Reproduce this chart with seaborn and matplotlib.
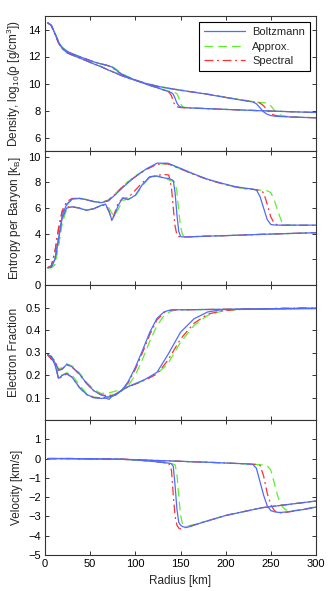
import matplotlib
matplotlib.use("Agg")
import matplotlib.pyplot as plt
import seaborn as sns
import pandas as pd
from matplotlib.lines import Line2D

# ---------------- data ----------------
SCHEMES = ["Boltzmann", "Approx.", "Spectral"]

R_EARLY = [3, 7, 11, 15, 19, 24, 30, 38, 46, 54, 62, 67, 71, 74, 77, 81, 86, 92, 100, 108,
           116, 124, 132, 137, 140, 142, 144, 146, 148, 150, 152, 154, 158, 175, 200, 240, 300]
R_LATE = [3, 7, 11, 15, 19, 24, 30, 38, 46, 54, 62, 70, 78, 86, 94, 102, 112, 124, 136, 150,
          165, 180, 195, 210, 222, 230, 234, 238, 242, 246, 250, 254, 258, 262, 266, 272, 285, 300]

# density, log10(rho)
dens_boltz_early = [14.5, 14.3, 13.7, 13.05, 12.65, 12.4, 12.2, 12.0, 11.8, 11.6, 11.45, 11.38, 11.3, 11.22, 11.08, 10.88, 10.65, 10.48, 10.25, 10.05, 9.85, 9.7, 9.5, 9.4, 9.32, 9.2, 8.9, 8.55, 8.35, 8.27, 8.24, 8.22, 8.2, 8.15, 8.08, 7.98, 7.85]
dens_approx_early = [14.5, 14.3, 13.75, 13.1, 12.7, 12.42, 12.22, 12.0, 11.8, 11.6, 11.45, 11.38, 11.32, 11.26, 11.15, 10.95, 10.7, 10.5, 10.26, 10.06, 9.87, 9.72, 9.53, 9.44, 9.38, 9.35, 9.32, 9.25, 8.95, 8.5, 8.3, 8.24, 8.2, 8.15, 8.08, 7.98, 7.85]
dens_spec_early = [14.5, 14.3, 13.65, 13.0, 12.62, 12.38, 12.2, 12.0, 11.8, 11.6, 11.45, 11.37, 11.28, 11.2, 11.05, 10.85, 10.63, 10.47, 10.25, 10.05, 9.85, 9.7, 9.5, 9.38, 9.1, 8.65, 8.38, 8.28, 8.24, 8.22, 8.21, 8.2, 8.19, 8.15, 8.08, 7.98, 7.85]
dens_boltz_late = [14.5, 14.3, 13.7, 13.05, 12.6, 12.3, 12.12, 11.9, 11.68, 11.45, 11.25, 11.0, 10.78, 10.55, 10.36, 10.2, 10.0, 9.8, 9.65, 9.5, 9.35, 9.2, 9.02, 8.85, 8.72, 8.63, 8.5, 8.2, 7.9, 7.72, 7.63, 7.58, 7.56, 7.55, 7.54, 7.52, 7.49, 7.46]
dens_approx_late = [14.5, 14.3, 13.75, 13.1, 12.65, 12.32, 12.14, 11.9, 11.68, 11.45, 11.25, 11.02, 10.8, 10.57, 10.38, 10.22, 10.02, 9.82, 9.67, 9.52, 9.37, 9.22, 9.05, 8.88, 8.75, 8.67, 8.63, 8.6, 8.58, 8.55, 8.35, 8.0, 7.75, 7.63, 7.58, 7.54, 7.5, 7.47]
dens_spec_late = [14.5, 14.3, 13.65, 13.0, 12.58, 12.28, 12.1, 11.9, 11.68, 11.45, 11.25, 11.0, 10.78, 10.55, 10.36, 10.2, 10.0, 9.8, 9.65, 9.5, 9.35, 9.2, 9.03, 8.86, 8.73, 8.65, 8.6, 8.55, 8.35, 8.02, 7.78, 7.65, 7.6, 7.57, 7.55, 7.52, 7.49, 7.46]

# entropy per baryon
ent_boltz_early = [1.35, 1.4, 2.0, 3.6, 5.2, 6.0, 6.1, 6.0, 5.82, 5.95, 6.2, 6.3, 5.75, 5.05, 5.45, 6.2, 6.8, 6.65, 7.0, 7.85, 8.45, 8.5, 8.35, 8.3, 8.22, 8.15, 7.2, 5.5, 4.2, 3.8, 3.75, 3.75, 3.75, 3.8, 3.85, 3.95, 4.08]
ent_approx_early = [1.35, 1.35, 1.6, 3.1, 4.8, 5.9, 6.1, 6.0, 5.85, 5.95, 6.2, 6.3, 6.0, 5.6, 5.4, 5.9, 6.6, 6.7, 6.95, 7.75, 8.4, 8.48, 8.3, 8.2, 8.12, 8.08, 8.02, 7.3, 5.8, 4.6, 3.95, 3.78, 3.76, 3.8, 3.85, 3.95, 4.08]
ent_spec_early = [1.35, 1.5, 2.6, 4.4, 5.7, 6.1, 6.1, 6.0, 5.82, 5.95, 6.2, 6.25, 5.7, 5.0, 5.6, 6.4, 6.75, 6.8, 7.4, 8.0, 8.4, 8.55, 8.62, 8.58, 7.6, 6.0, 4.6, 3.9, 3.78, 3.76, 3.75, 3.75, 3.75, 3.8, 3.85, 3.95, 4.08]
ent_boltz_late = [1.35, 1.4, 2.0, 3.6, 5.4, 6.3, 6.7, 6.75, 6.65, 6.5, 6.42, 6.55, 7.05, 7.6, 8.1, 8.55, 9.05, 9.5, 9.5, 9.1, 8.65, 8.25, 7.95, 7.68, 7.55, 7.48, 7.42, 6.9, 6.0, 5.1, 4.72, 4.68, 4.67, 4.67, 4.67, 4.67, 4.67, 4.67]
ent_approx_late = [1.35, 1.35, 1.6, 3.1, 5.0, 6.2, 6.7, 6.78, 6.68, 6.52, 6.45, 6.62, 7.15, 7.7, 8.18, 8.6, 9.02, 9.45, 9.45, 9.05, 8.62, 8.22, 7.92, 7.65, 7.5, 7.45, 7.42, 7.4, 7.38, 7.35, 7.2, 6.6, 5.7, 4.95, 4.7, 4.67, 4.66, 4.66]
ent_spec_late = [1.35, 1.5, 2.6, 4.4, 5.8, 6.5, 6.75, 6.75, 6.65, 6.5, 6.42, 6.6, 7.1, 7.65, 8.15, 8.55, 9.0, 9.42, 9.45, 9.05, 8.62, 8.22, 7.92, 7.65, 7.52, 7.46, 7.42, 7.38, 7.2, 6.3, 5.3, 4.78, 4.68, 4.66, 4.65, 4.65, 4.65, 4.65]

# electron fraction
ye_boltz_early = [0.29, 0.28, 0.245, 0.185, 0.198, 0.207, 0.19, 0.145, 0.114, 0.099, 0.096, 0.097, 0.092, 0.105, 0.112, 0.12, 0.137, 0.17, 0.234, 0.31, 0.39, 0.452, 0.481, 0.487, 0.489, 0.49, 0.49, 0.49, 0.49, 0.49, 0.49, 0.49, 0.49, 0.491, 0.492, 0.493, 0.495]
ye_approx_early = [0.29, 0.282, 0.255, 0.195, 0.2, 0.21, 0.2, 0.155, 0.118, 0.102, 0.098, 0.1, 0.105, 0.11, 0.115, 0.122, 0.132, 0.152, 0.2, 0.27, 0.35, 0.42, 0.465, 0.478, 0.484, 0.486, 0.488, 0.489, 0.49, 0.49, 0.49, 0.49, 0.49, 0.491, 0.492, 0.494, 0.497]
ye_spec_early = [0.29, 0.27, 0.26, 0.18, 0.195, 0.205, 0.19, 0.145, 0.113, 0.1, 0.098, 0.1, 0.104, 0.108, 0.113, 0.12, 0.135, 0.165, 0.225, 0.3, 0.38, 0.445, 0.478, 0.486, 0.488, 0.489, 0.49, 0.49, 0.49, 0.49, 0.49, 0.49, 0.49, 0.491, 0.492, 0.494, 0.497]
ye_boltz_late = [0.29, 0.282, 0.255, 0.222, 0.225, 0.247, 0.236, 0.205, 0.163, 0.13, 0.112, 0.101, 0.11, 0.135, 0.152, 0.165, 0.183, 0.212, 0.29, 0.39, 0.45, 0.48, 0.49, 0.492, 0.493, 0.493, 0.493, 0.493, 0.494, 0.494, 0.494, 0.494, 0.495, 0.495, 0.495, 0.495, 0.496, 0.496]
ye_approx_late = [0.29, 0.285, 0.262, 0.228, 0.232, 0.25, 0.24, 0.21, 0.168, 0.135, 0.118, 0.12, 0.128, 0.14, 0.152, 0.163, 0.18, 0.205, 0.25, 0.345, 0.42, 0.465, 0.483, 0.49, 0.492, 0.493, 0.494, 0.494, 0.494, 0.495, 0.495, 0.495, 0.496, 0.496, 0.496, 0.497, 0.497, 0.497]
ye_spec_late = [0.29, 0.272, 0.265, 0.22, 0.228, 0.245, 0.235, 0.203, 0.162, 0.13, 0.112, 0.108, 0.115, 0.135, 0.15, 0.163, 0.18, 0.205, 0.265, 0.36, 0.43, 0.47, 0.485, 0.49, 0.492, 0.493, 0.494, 0.494, 0.495, 0.495, 0.495, 0.496, 0.496, 0.497, 0.497, 0.497, 0.498, 0.498]

# velocity
vel_boltz_early = [0.0, 0.0, 0.0, 0.0, 0.0, 0.0, 0.0, -0.01, -0.01, -0.01, -0.02, -0.02, -0.02, -0.03, -0.03, -0.03, -0.04, -0.05, -0.07, -0.1, -0.13, -0.17, -0.21, -0.24, -0.27, -0.4, -1.4, -2.6, -3.3, -3.45, -3.52, -3.55, -3.56, -3.3, -2.95, -2.55, -2.2]
vel_approx_early = [0.0, 0.0, 0.0, 0.0, 0.0, 0.0, 0.0, -0.01, -0.01, -0.01, -0.02, -0.02, -0.02, -0.03, -0.03, -0.03, -0.04, -0.05, -0.07, -0.1, -0.13, -0.17, -0.21, -0.24, -0.27, -0.29, -0.32, -0.8, -1.9, -2.9, -3.35, -3.45, -3.5, -3.3, -2.95, -2.55, -2.2]
vel_spec_early = [0.0, 0.0, 0.0, 0.0, 0.0, 0.0, 0.0, -0.01, -0.01, -0.01, -0.02, -0.02, -0.02, -0.03, -0.03, -0.03, -0.04, -0.05, -0.07, -0.1, -0.13, -0.17, -0.21, -0.25, -0.6, -1.9, -3.0, -3.45, -3.6, -3.65, -3.62, -3.6, -3.55, -3.3, -2.95, -2.55, -2.2]
vel_boltz_late = [0.0, 0.0, 0.0, 0.0, 0.0, 0.0, 0.0, -0.01, -0.01, -0.02, -0.02, -0.03, -0.03, -0.04, -0.05, -0.06, -0.08, -0.1, -0.12, -0.14, -0.17, -0.19, -0.22, -0.25, -0.27, -0.3, -0.5, -1.2, -1.9, -2.45, -2.7, -2.76, -2.79, -2.79, -2.77, -2.74, -2.65, -2.52]
vel_approx_late = [0.0, 0.0, 0.0, 0.0, 0.0, 0.0, 0.0, -0.01, -0.01, -0.02, -0.02, -0.03, -0.03, -0.04, -0.05, -0.06, -0.08, -0.1, -0.12, -0.14, -0.17, -0.19, -0.22, -0.25, -0.28, -0.3, -0.31, -0.32, -0.33, -0.38, -0.6, -1.3, -2.0, -2.45, -2.65, -2.72, -2.63, -2.5]
vel_spec_late = [0.0, 0.0, 0.0, 0.0, 0.0, 0.0, 0.0, -0.01, -0.01, -0.02, -0.02, -0.03, -0.03, -0.04, -0.05, -0.06, -0.08, -0.1, -0.12, -0.14, -0.17, -0.19, -0.22, -0.25, -0.27, -0.29, -0.3, -0.35, -0.9, -1.8, -2.4, -2.7, -2.8, -2.82, -2.8, -2.75, -2.65, -2.52]

YLABELS = ["Density, log$_{10}$(ρ [g/cm$^3$])", "Entropy per Baryon [k$_{\\mathrm{B}}$]",
           "Electron Fraction", "Velocity [km/s]"]
XLABEL = "Radius [km]"
XTICKS = [0, 50, 100, 150, 200, 250, 300]
YTICKS = [[6, 8, 10, 12, 14], [0, 2, 4, 6, 8, 10], [0.1, 0.2, 0.3, 0.4, 0.5], [-5, -4, -3, -2, -1, 0, 1]]
YLIMS = [(5, 15), (0, 10.45), (0, 0.6), (-5, 2)]

PANELS = [
    {"Boltzmann": (dens_boltz_early, dens_boltz_late), "Approx.": (dens_approx_early, dens_approx_late), "Spectral": (dens_spec_early, dens_spec_late)},
    {"Boltzmann": (ent_boltz_early, ent_boltz_late), "Approx.": (ent_approx_early, ent_approx_late), "Spectral": (ent_spec_early, ent_spec_late)},
    {"Boltzmann": (ye_boltz_early, ye_boltz_late), "Approx.": (ye_approx_early, ye_approx_late), "Spectral": (ye_spec_early, ye_spec_late)},
    {"Boltzmann": (vel_boltz_early, vel_boltz_late), "Approx.": (vel_approx_early, vel_approx_late), "Spectral": (vel_spec_early, vel_spec_late)},
]

# ---------------- style ----------------
COLORS = {"Boltzmann": "#4f6bff", "Approx.": "#5ef02a", "Spectral": "#ff3030"}
DASHES = {"Boltzmann": "", "Approx.": (7, 4), "Spectral": (7, 3, 1.5, 3)}

sns.set_style("ticks")
plt.rcParams["font.family"] = ["Liberation Sans", "DejaVu Sans"]
plt.rcParams.update({
    "mathtext.fontset": "custom",
    "mathtext.rm": "Liberation Sans",
    "mathtext.it": "Liberation Sans:italic",
    "font.size": 8,
    "xtick.direction": "in", "ytick.direction": "in",
    "xtick.top": True, "ytick.right": True,
    "xtick.major.size": 3, "ytick.major.size": 3,
    "xtick.major.width": 0.7, "ytick.major.width": 0.7,
    "axes.linewidth": 0.8, "axes.edgecolor": "#333333",
    "xtick.color": "#333333", "ytick.color": "#333333",
    "xtick.labelcolor": "black", "ytick.labelcolor": "black",
    "xtick.labelsize": 8, "ytick.labelsize": 8,
})

W, H = 332, 591
fig = plt.figure(figsize=(W / 100, H / 100), dpi=100)
tops = [16, 151, 285, 420]
bots = [151, 285, 420, 555]
draw_order = ["Approx.", "Spectral", "Boltzmann"]

for i in range(4):
    ax = fig.add_axes([45 / W, 1 - bots[i] / H, 271 / W, (bots[i] - tops[i]) / H])
    rows = []
    for s in draw_order:
        early, late = PANELS[i][s]
        for r, v in zip(R_EARLY, early):
            rows.append((r, v, s, "early"))
        for r, v in zip(R_LATE, late):
            rows.append((r, v, s, "late"))
    df = pd.DataFrame(rows, columns=["r", "v", "scheme", "epoch"])
    sns.lineplot(data=df, x="r", y="v", hue="scheme", style="scheme", units="epoch",
                 estimator=None, sort=False, hue_order=draw_order, style_order=draw_order,
                 palette=COLORS, dashes=DASHES, lw=0.9, legend=False, ax=ax)
    ax.set_xlim(0, 300)
    ax.set_ylim(*YLIMS[i])
    ax.set_xticks(XTICKS)
    ax.set_yticks(YTICKS[i])
    ax.set_ylabel(YLABELS[i], fontsize=8.5)
    ax.tick_params(axis="both", which="major", pad=3)
    if i < 3:
        ax.set_xlabel("")
        ax.tick_params(labelbottom=False)
    else:
        ax.set_xlabel(XLABEL, fontsize=8.5)
    for sp in ax.spines.values():
        sp.set_visible(True)
    if i == 0:
        handles = [Line2D([], [], color=COLORS[s], lw=0.9,
                          linestyle="-" if s == "Boltzmann" else (0, DASHES[s])) for s in SCHEMES]
        leg = ax.legend(handles, SCHEMES, loc="upper right", frameon=True, fancybox=False,
                        edgecolor="black", framealpha=1, handlelength=3.7, fontsize=8,
                        borderpad=0.45, labelspacing=0.4, handletextpad=0.6, borderaxespad=0.55)
        leg.get_frame().set_linewidth(0.8)

fig.savefig("out.png", dpi=100)
